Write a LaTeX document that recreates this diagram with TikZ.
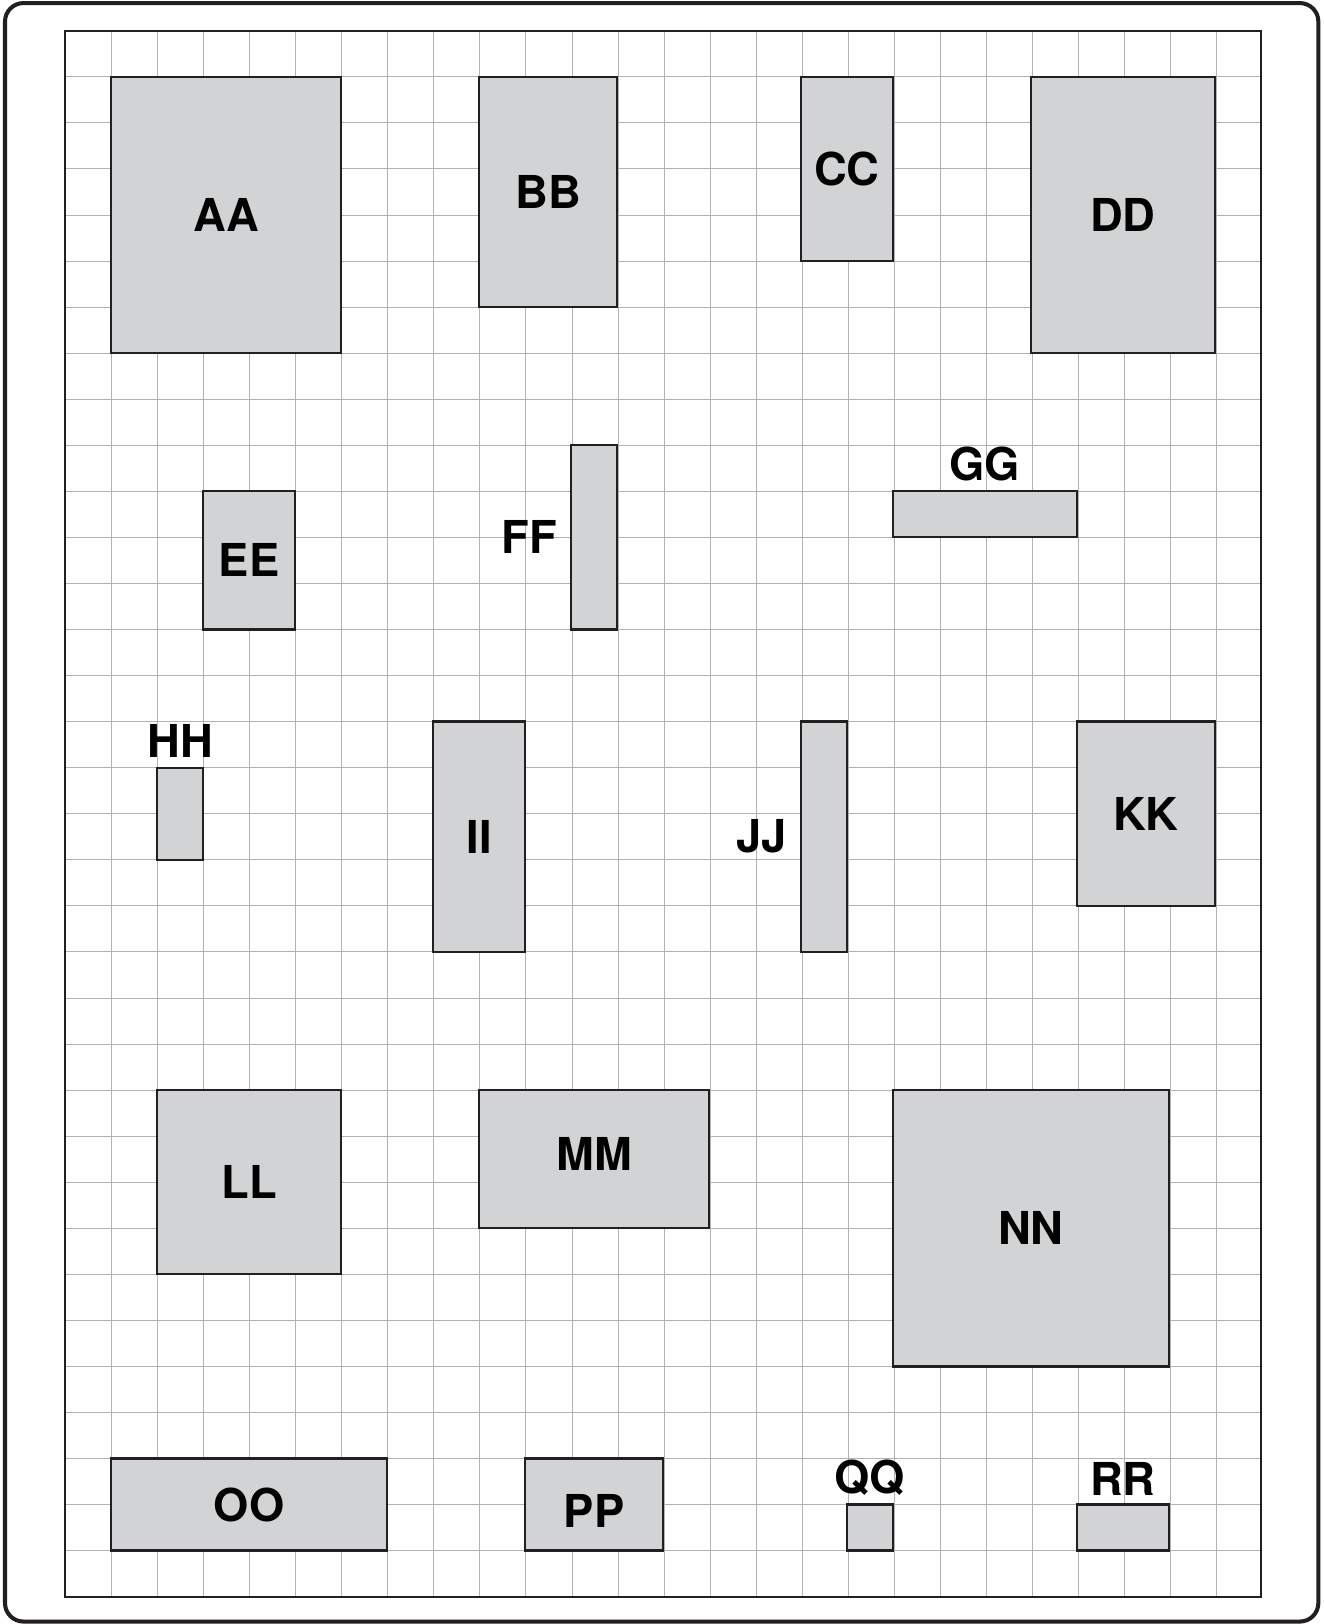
\documentclass[tikz,border=0pt]{standalone}
\usepackage{fontspec}
\newfontfamily\labelfont{TeX Gyre Heros}
\usepackage{tikz}
\usetikzlibrary{positioning}
\definecolor{boxgray}{RGB}{209,211,212}
\definecolor{inkblack}{RGB}{35,31,32}

\begin{document}
\begin{tikzpicture}[x=0.9983cm,y=1cm,
  room/.style={draw=inkblack,fill=boxgray,line width=1.4pt,inner sep=0pt,outer sep=0pt,
               font=\labelfont\bfseries\fontsize{28}{30}\selectfont},
  tag/.style={inner sep=0pt,font=\labelfont\bfseries\fontsize{28}{30}\selectfont}]
\useasboundingbox (-1.420,-0.593) rectangle (27.355,34.667);
\draw[inkblack,line width=2.5pt,rounded corners=0.4cm] (-1.311,-0.54) rectangle (27.252,34.60);
% one cell of the grid is about 1cm
\draw[gray!60,line width=0.5pt] (0,0) grid (26,34);
\draw[inkblack,line width=1.3pt] (0,0) rectangle (26,34);
% rooms: name/text/centre x/centre y/width/height
\foreach \name/\txt/\cx/\cy/\w/\h in {aa/AA/3.5/30/5/6, bb/BB/10.5/30.5/3/5,
    cc/CC/17/31/2/4, dd/DD/23/30/4/6, ee/EE/4/22.5/2/3, ff//11.5/23/1/4,
    gg//20/23.5/4/1, hh//2.5/17/1/2, ii/II/9/16.5/2/5, jj//16.5/16.5/1/5,
    kk/KK/23.5/17/3/4, ll/LL/4/9/4/4, mm//11.5/9.5/5/3, nn/NN/21/8/6/6,
    oo/OO/4/2/6/2, pp//11.5/2/3/2, qq//17.5/1.5/1/1, rr//23/1.5/2/1}
  \node[room,minimum width=\w*0.9983cm,minimum height=\h cm] (\name) at (\cx,\cy) {\txt};
% labels that are not centred in their room
\node[tag,left=0.3cm of ff] (ff-tag) {FF};
\node[tag,above=0.22cm of gg] (gg-tag) {GG};
\node[tag,above=0.22cm of hh] (hh-tag) {HH};
\node[tag,left=0.3cm of jj] (jj-tag) {JJ};
\node[tag,yshift=0.12cm] (mm-tag) at (mm) {MM};
\node[tag,yshift=-0.15cm] (pp-tag) at (pp) {PP};
\node[tag,above=0.2cm of qq] (qq-tag) {QQ};
\node[tag,above=0.2cm of rr] (rr-tag) {RR};
\end{tikzpicture}
\end{document}
